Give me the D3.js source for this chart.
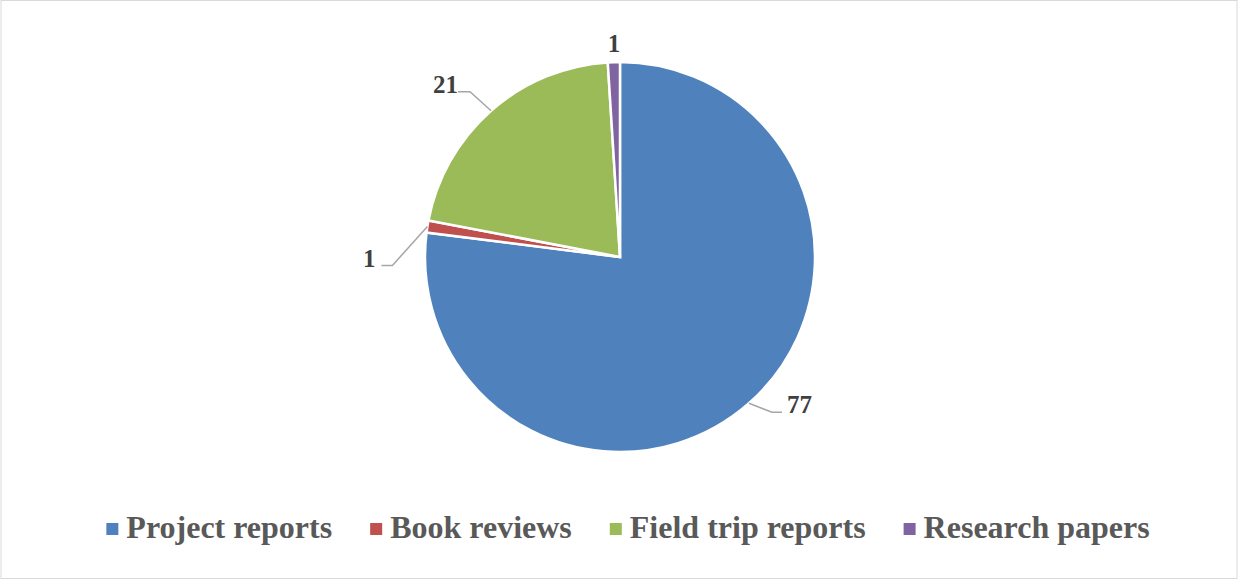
<!DOCTYPE html>
<html>
<head>
<meta charset="utf-8">
<script src="https://cdn.jsdelivr.net/npm/d3@7"></script>
<style>
  body { margin: 0; background: #fff; }
  svg { display: block; }
</style>
</head>
<body>
<svg id="chart" width="1239" height="581"></svg>
<script>
var categories = ["Project reports", "Book reviews", "Field trip reports", "Research papers"];
var values = [77, 1, 21, 1];
var colors = ["#4f81bd", "#c0504d", "#9bbb59", "#8064a2"];

// manual label placement (elbow offset from slice edge, tail length), like Excel best fit
var labelPlace = [
    { ex: 23, ey: 9, tail: 10, gap: 5 },
    { ex: -35, ey: 39, tail: -11, gap: -6 },
    { ex: -21, ey: -19, tail: -12, gap: 0 },
    { ex: 0, ey: -11, tail: 0, gap: 0, noLine: true }
];

var width = 1239, height = 581;
var cx = 620, cy = 257, radius = 195;

var svg = d3.select("#chart");

svg.append("rect")
    .attr("x", 1).attr("y", 0.5)
    .attr("width", 1236).attr("height", 578)
    .attr("fill", "#fff")
    .attr("stroke", "#d9d9d9")
    .attr("stroke-width", 1);

var data = categories.map(function(c, i) {
    return { name: c, value: values[i], color: colors[i], place: labelPlace[i] };
});

var pie = d3.pie().sort(null).value(function(d) { return d.value; });
var arc = d3.arc().innerRadius(0).outerRadius(radius);
var arcs = pie(data);

var g = svg.append("g").attr("transform", "translate(" + cx + "," + cy + ")");

g.selectAll("path.slice")
    .data(arcs)
    .join("path")
    .attr("class", "slice")
    .attr("d", arc)
    .attr("fill", function(d) { return d.data.color; })
    .attr("stroke", "#fff")
    .attr("stroke-width", 2.5)
    .attr("stroke-linejoin", "miter");

// labels and leader lines
arcs.forEach(function(d) {
    var mid = (d.startAngle + d.endAngle) / 2;
    var px = radius * Math.sin(mid);
    var py = -radius * Math.cos(mid);
    var p = d.data.place;
    var elx = px + p.ex, ely = py + p.ey;
    var endx = elx + p.tail;

    if (!p.noLine) {
        g.append("path")
            .attr("d", "M" + px + "," + py + "L" + elx + "," + ely + "L" + endx + "," + ely)
            .attr("fill", "none")
            .attr("stroke", "#a6a6a6")
            .attr("stroke-width", 1.5);
    }

    var anchor = p.noLine ? "middle" : (p.tail > 0 ? "start" : "end");
    g.append("text")
        .attr("x", endx + p.gap)
        .attr("y", ely + 1)
        .attr("text-anchor", anchor)
        .attr("font-family", "'Liberation Serif', 'Times New Roman', serif")
        .attr("font-weight", "bold")
        .attr("font-size", 25)
        .attr("fill", "#404040")
        .text(d.data.value);
});

// legend
var legend = svg.append("g");
var fontSize = 32, box = 12, boxGap = 8, itemGap = 38;
var items = legend.selectAll("g.item")
    .data(data)
    .join("g")
    .attr("class", "item");

items.append("rect")
    .attr("width", box).attr("height", box)
    .attr("y", -box / 2)
    .attr("fill", function(d) { return d.color; });

items.append("text")
    .attr("x", box + boxGap)
    .attr("y", 9)
    .attr("font-family", "'Liberation Serif', 'Times New Roman', serif")
    .attr("font-weight", "bold")
    .attr("font-size", fontSize)
    .attr("fill", "#595959")
    .text(function(d) { return d.name; });

var xpos = 0, offsets = [];
items.each(function() {
    offsets.push(xpos);
    var w = d3.select(this).select("text").node().getComputedTextLength();
    xpos += box + boxGap + w + itemGap;
});
var total = xpos - itemGap;
var startX = 628 - total / 2;
items.attr("transform", function(d, i) {
    return "translate(" + (startX + offsets[i]) + ",529)";
});
</script>
</body>
</html>
